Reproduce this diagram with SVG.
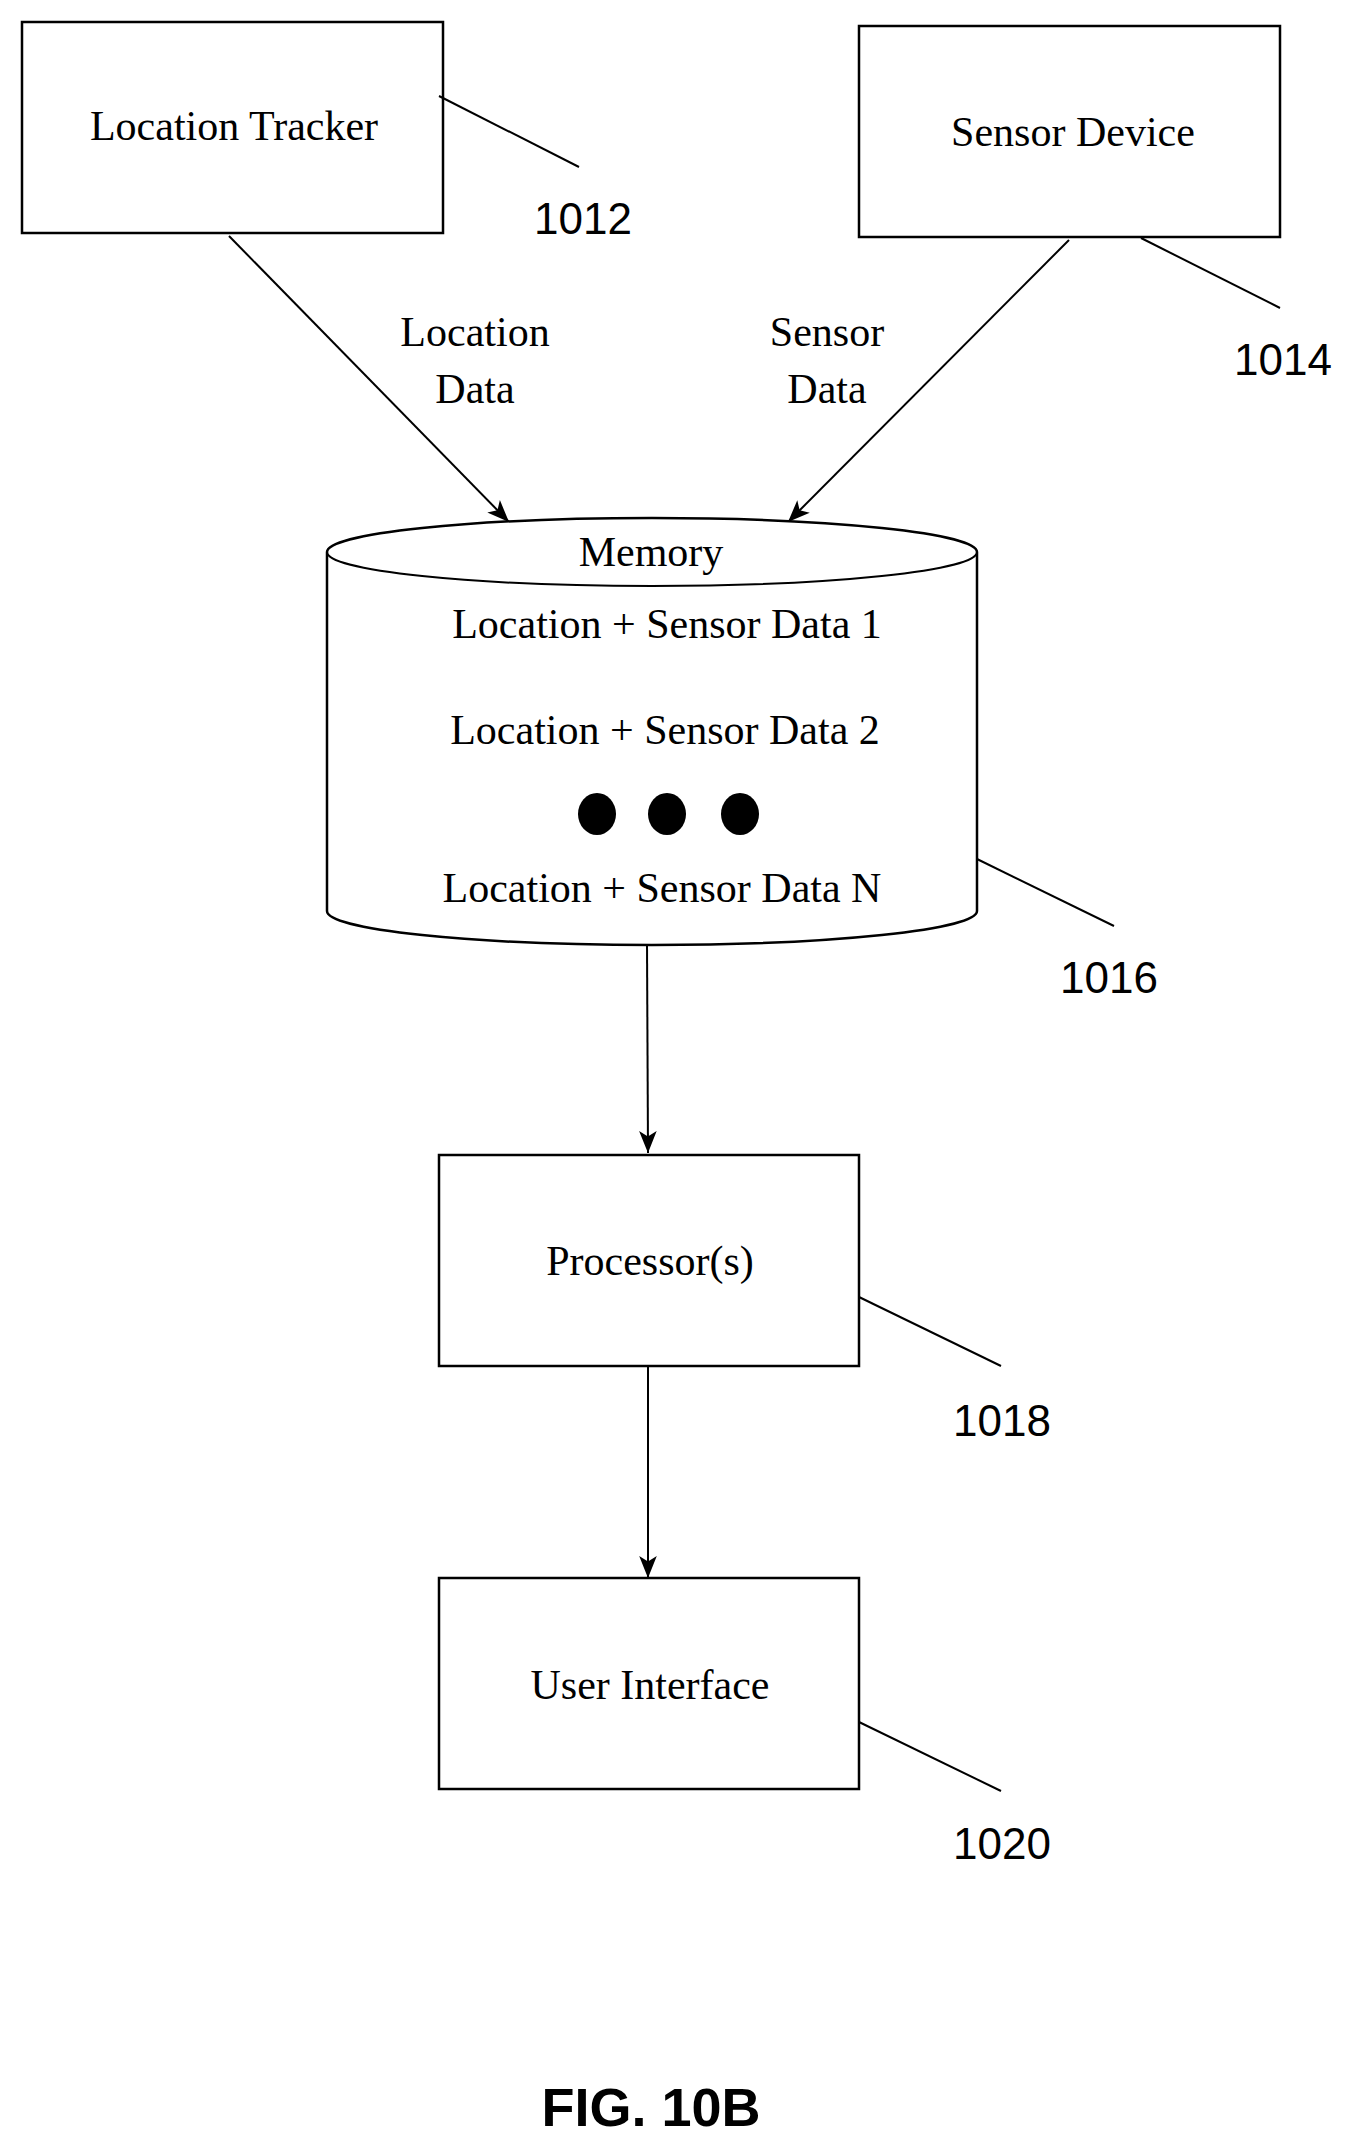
<svg xmlns="http://www.w3.org/2000/svg" width="1362" height="2148" viewBox="0 0 1362 2148">
<style>
.b{fill:#fff;stroke:#000;stroke-width:2.5}
.t{font-family:"Liberation Serif",serif;font-size:42px;text-anchor:middle;fill:#000}
.n{font-family:"Liberation Sans",sans-serif;font-size:44px;text-anchor:middle;fill:#000}
.l{stroke:#000;stroke-width:2;fill:none}
</style>
<defs><marker id="a" viewBox="0 0 10 10" refX="10" refY="5" markerWidth="10" markerHeight="10" markerUnits="userSpaceOnUse" orient="auto"><path d="M0,0 L10,5 L0,10 z" fill="#000"/></marker>
<marker id="a2" viewBox="0 0 20 20" refX="20" refY="10" markerWidth="22" markerHeight="22" markerUnits="userSpaceOnUse" orient="auto"><path d="M0,2 L20,10 L0,18 L5,10 z" fill="#000"/></marker></defs>
<rect width="1362" height="2148" fill="#fff"/>
<g id="connectors">
<line class="l" x1="229" y1="236" x2="509" y2="522" marker-end="url(#a2)"/>
<line class="l" x1="1069" y1="240" x2="788" y2="522" marker-end="url(#a2)"/>
<line class="l" x1="647" y1="943" x2="648" y2="1153" marker-end="url(#a2)"/>
<line class="l" x1="648" y1="1366" x2="648" y2="1578" marker-end="url(#a2)"/>
<text class="t" x="475" y="346">Location</text>
<text class="t" x="475" y="403">Data</text>
<text class="t" x="827" y="346">Sensor</text>
<text class="t" x="827" y="403">Data</text>
</g>
<g id="tracker">
<rect class="b" x="22" y="22" width="421" height="211"/>
<text class="t" x="234" y="140">Location Tracker</text>
<line class="l" x1="439" y1="96" x2="579" y2="167"/>
<text class="n" x="583" y="234">1012</text>
</g>
<g id="sensor">
<rect class="b" x="859" y="26" width="421" height="211"/>
<text class="t" x="1073" y="146">Sensor Device</text>
<line class="l" x1="1141" y1="238" x2="1280" y2="308"/>
<text class="n" x="1283" y="375">1014</text>
</g>
<g id="memory">
<path class="b" d="M327,552 L327,911 A325,34 0 0 0 977,911 L977,552 A325,34 0 0 0 327,552 Z"/>
<path class="l" d="M327,552 A325,34 0 0 0 977,552"/>
<text class="t" x="651" y="566">Memory</text>
<text class="t" x="667" y="638">Location + Sensor Data 1</text>
<text class="t" x="665" y="744">Location + Sensor Data 2</text>
<ellipse cx="597" cy="814" rx="19" ry="21"/>
<ellipse cx="667" cy="814" rx="19" ry="21"/>
<ellipse cx="740" cy="814" rx="19" ry="21"/>
<text class="t" x="662" y="902">Location + Sensor Data N</text>
<line class="l" x1="977" y1="859" x2="1114" y2="926"/>
<text class="n" x="1109" y="993">1016</text>
</g>
<g id="processor">
<rect class="b" x="439" y="1155" width="420" height="211"/>
<text class="t" x="650" y="1275">Processor(s)</text>
<line class="l" x1="859" y1="1297" x2="1001" y2="1366"/>
<text class="n" x="1002" y="1436">1018</text>
</g>
<g id="ui">
<rect class="b" x="439" y="1578" width="420" height="211"/>
<text class="t" x="650" y="1699">User Interface</text>
<line class="l" x1="859" y1="1722" x2="1001" y2="1791"/>
<text class="n" x="1002" y="1859">1020</text>
</g>
<text x="651" y="2126" style="font-family:'Liberation Sans',sans-serif;font-weight:bold;font-size:54px;text-anchor:middle">FIG. 10B</text>
</svg>
